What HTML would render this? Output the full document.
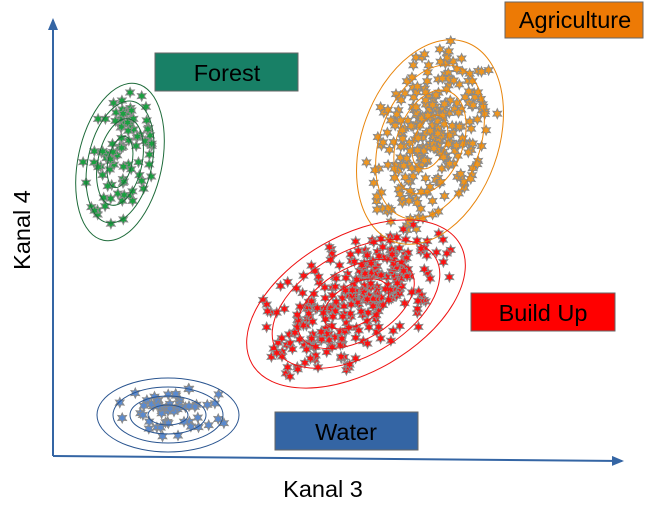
<!DOCTYPE html>
<html><head><meta charset="utf-8"><style>
html,body{margin:0;padding:0;background:#fff;}
svg{display:block;font-family:"Liberation Sans",sans-serif;}
</style></head><body>
<svg id="s" width="649" height="509" viewBox="0 0 649 509" xmlns="http://www.w3.org/2000/svg">
<defs>
<marker id="ar" markerWidth="12" markerHeight="10" refX="10" refY="5" orient="auto" markerUnits="userSpaceOnUse">
<path d="M0,0 L12,5 L0,10 z" fill="#3465a4"/></marker>
<path id="st" d="M0,-5 L1.3,-2.2 L4.3,-2.5 L2.6,0 L4.3,2.5 L1.3,2.2 L0,5 L-1.3,2.2 L-4.3,2.5 L-2.6,0 L-4.3,-2.5 L-1.3,-2.2 Z" stroke="#8a8a8a" stroke-width="1"/>
</defs>
<g id="pts"></g>
<g fill="none">
<g transform="translate(120,162) rotate(12)" stroke="#1e6b3a">
<ellipse rx="42" ry="80"/><ellipse rx="32" ry="62"/><ellipse rx="22" ry="44"/><ellipse rx="12" ry="26"/></g>
<g transform="translate(430,142) rotate(20)" stroke="#e8850c">
<ellipse rx="68" ry="106"/><ellipse rx="50" ry="80"/><ellipse rx="33" ry="54"/><ellipse rx="16" ry="28"/></g>
<g transform="translate(356,304) rotate(-30)" stroke="#ee1111">
<ellipse rx="120" ry="68"/><ellipse rx="92" ry="52"/><ellipse rx="64" ry="36"/><ellipse rx="36" ry="20"/></g>
<g transform="translate(168,415)" stroke="#2a5590">
<ellipse rx="71" ry="37"/><ellipse rx="55" ry="28"/><ellipse rx="38" ry="19"/><ellipse rx="20" ry="10"/></g>
</g>
<line x1="53" y1="456" x2="53" y2="20" stroke="#3465a4" stroke-width="2" marker-end="url(#ar)"/>
<line x1="53" y1="456" x2="622" y2="461" stroke="#3465a4" stroke-width="2" marker-end="url(#ar)"/>
<rect x="155" y="53" width="143" height="38" fill="#188066" stroke="#666"/>
<text x="227" y="81" text-anchor="middle" font-size="23.5">Forest</text>
<rect x="505" y="2" width="138" height="36" fill="#ed7a05" stroke="#666"/>
<text x="575" y="28" text-anchor="middle" font-size="23.5">Agriculture</text>
<rect x="471" y="293" width="144" height="38" fill="#ff0000" stroke="#666"/>
<text x="543" y="321" text-anchor="middle" font-size="23.5">Build Up</text>
<rect x="275" y="412" width="143" height="38" fill="#3465a4" stroke="#666"/>
<text x="346" y="440" text-anchor="middle" font-size="23.5">Water</text>
<text x="323" y="497" text-anchor="middle" font-size="23.5">Kanal 3</text>
<text transform="translate(30,230) rotate(-90)" text-anchor="middle" font-size="23.5">Kanal 4</text>
</svg>
<script>
var seed=11;function r(){seed=(seed*16807)%2147483647;return seed/2147483647;}
function g(){return Math.sqrt(-2*Math.log(r()+1e-9))*Math.cos(6.283*r());}
var G=document.getElementById('pts'),out='';
function cl(cx,cy,rx,ry,ang,n,col){var a=ang*Math.PI/180;for(var i=0;i<n;i++){var u=g()*rx*0.5,v=g()*ry*0.5;if(u*u/(rx*rx)+v*v/(ry*ry)>1){i--;continue;}var x=cx+u*Math.cos(a)-v*Math.sin(a),y=cy+u*Math.sin(a)+v*Math.cos(a);out+='<use href="#st" x="'+x.toFixed(1)+'" y="'+y.toFixed(1)+'" fill="'+col+'"/>';}}
cl(432,138,62,102,20,280,'#f0961e');
cl(352,300,112,62,-30,300,'#ff1010');
cl(120,160,38,74,12,90,'#1aa040');
cl(170,413,62,30,0,55,'#5a8ad0');
G.innerHTML=out;
</script>
</body></html>
